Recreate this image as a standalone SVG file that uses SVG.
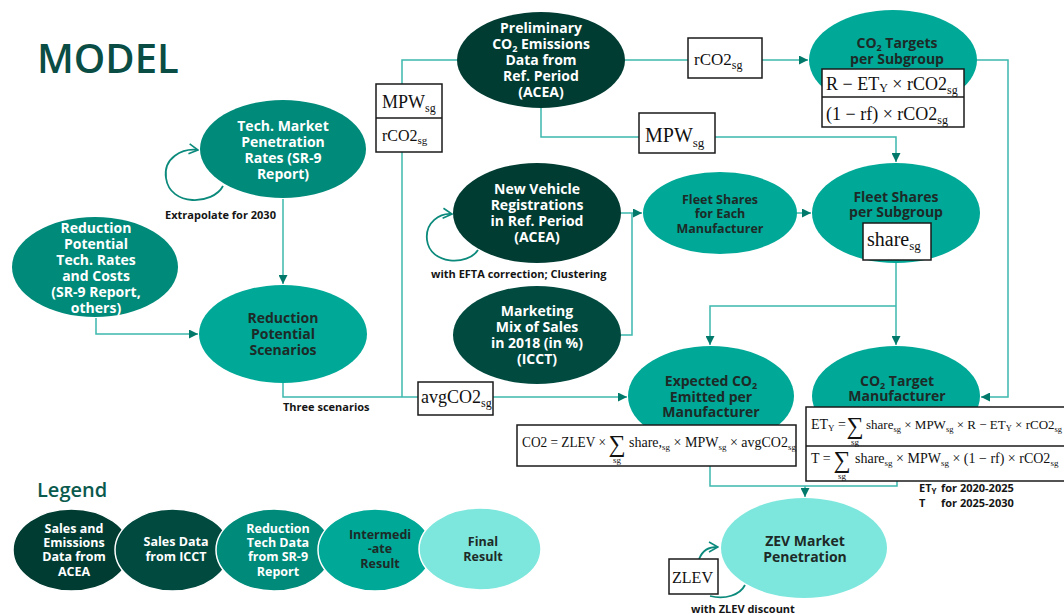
<svg xmlns="http://www.w3.org/2000/svg" width="1064" height="614" viewBox="0 0 1064 614">
<defs>
<marker id="ah" viewBox="0 0 10 10" refX="10" refY="5" markerWidth="9" markerHeight="9" markerUnits="userSpaceOnUse" orient="auto"><path d="M0,0 L10,5 L0,10 z" fill="#00796b"/></marker>
<marker id="ch" viewBox="0 0 12 12" refX="11" refY="6" markerWidth="12" markerHeight="12" markerUnits="userSpaceOnUse" orient="auto"><path d="M2,1 L11,6 L2,11" fill="none" stroke="#0b8a7c" stroke-width="1.6"/></marker>
<style>
.ln{fill:none;stroke:#3db8ad;stroke-width:1.5}
.lp{fill:none;stroke:#0b8a7c;stroke-width:1.8}
.t{font-family:"Open Sans","Liberation Sans",sans-serif;font-weight:700;font-size:14px;text-anchor:middle}
.w{fill:#fff}
.d{fill:#1d2a27}
.s{font-size:12.5px}
.lbl{font-family:"Open Sans","Liberation Sans",sans-serif;font-weight:700;font-size:11px;fill:#151515}
.m{font-family:"Liberation Serif","DejaVu Serif",serif;fill:#111}
.bx{fill:#fff;stroke:#1a1a1a;stroke-width:1.5}
.acea{fill:#013c33}
.icct{fill:#014a40}
.sr9{fill:#008a7a}
.int{fill:#00a897}
.fin{fill:#7de7dd}
.lg{stroke:#fff;stroke-width:1.5}
</style>
</defs>
<rect width="1064" height="614" fill="#fff"/>
<text x="37" y="73" font-family="'Open Sans','Liberation Sans',sans-serif" font-weight="600" font-size="40" fill="#0a4d44">MODEL</text>

<g id="connectors">
<path class="ln" d="M283,199 V284" marker-end="url(#ah)"/>
<path class="ln" d="M96,318 V334 H198" marker-end="url(#ah)"/>
<path class="ln" d="M283,383 V397 H418"/>
<path class="ln" d="M402,152 V397"/>
<path class="ln" d="M402,84 V60 H457"/>
<path class="ln" d="M625,60 H688"/>
<path class="ln" d="M762,60 H808" marker-end="url(#ah)"/>
<path class="ln" d="M541,108 V137 H639"/>
<path class="ln" d="M715,137 H896 V162" marker-end="url(#ah)"/>
<path class="ln" d="M977,60 H1008 V397 H981" marker-end="url(#ah)"/>
<path class="ln" d="M797,213 H811" marker-end="url(#ah)"/>
<path class="ln" d="M621,213 H642" marker-end="url(#ah)"/>
<path class="ln" d="M621,335 H632 V213"/>
<path class="ln" d="M896,263 V345" marker-end="url(#ah)"/>
<path class="ln" d="M896,306 H710 V345" marker-end="url(#ah)"/>
<path class="ln" d="M493,397 H627" marker-end="url(#ah)"/>
<path class="ln" d="M710,466 V486 H897 V481"/>
<path class="ln" d="M805,486 V497" marker-end="url(#ah)"/>
<path class="lp" d="M223,186 C213,205 170,207 166,178 C163,158 182,148 198,150" marker-end="url(#ch)"/>
<path class="lp" d="M478,250 C468,266 430,265 427,240 C425,222 440,213 452,214" marker-end="url(#ch)"/>
<path class="lp" d="M699,559 C703,550 708,547 718,547" marker-end="url(#ch)"/>
<path class="lp" d="M710,596 C725,600 740,595 745,585"/>
</g>

<g id="lbl-extrapolate"><text class="lbl" x="165" y="219">Extrapolate for 2030</text></g>
<g id="lbl-efta"><text class="lbl" x="431" y="278">with EFTA correction; Clustering</text></g>
<g id="lbl-three"><text class="lbl" x="283" y="411">Three scenarios</text></g>

<g id="node-techmarket">
<ellipse class="sr9" cx="283" cy="149" rx="83" ry="49"/>
<text class="t w" x="283" y="131">Tech. Market</text>
<text class="t w" x="283" y="147">Penetration</text>
<text class="t w" x="283" y="163">Rates (SR-9</text>
<text class="t w" x="283" y="179">Report)</text>
</g>

<g id="node-redtech">
<ellipse class="sr9" cx="95" cy="267" rx="83" ry="50"/>
<text class="t w" x="96" y="233">Reduction</text>
<text class="t w" x="96" y="249">Potential</text>
<text class="t w" x="96" y="265">Tech. Rates</text>
<text class="t w" x="96" y="281">and Costs</text>
<text class="t w" x="96" y="297">(SR-9 Report,</text>
<text class="t w" x="96" y="313">others)</text>
</g>

<g id="node-scenarios">
<ellipse class="int" cx="283" cy="334" rx="84" ry="49"/>
<text class="t d" x="283" y="323">Reduction</text>
<text class="t d" x="283" y="339">Potential</text>
<text class="t d" x="283" y="355">Scenarios</text>
</g>

<g id="box-mpw-rco2">
<rect class="bx" x="376" y="84" width="66" height="68"/>
<line x1="376" y1="118" x2="442" y2="118" stroke="#1a1a1a" stroke-width="1.5"/>
<text class="m" x="382" y="108" font-size="18">MPW<tspan font-size="12" dy="4">sg</tspan></text>
<text class="m" x="382" y="141" font-size="16">rCO2<tspan font-size="11" dy="3">sg</tspan></text>
</g>

<g id="node-preliminary">
<ellipse class="acea" cx="541" cy="60" rx="84" ry="48"/>
<text class="t w" x="541" y="33">Preliminary</text>
<text class="t w" x="541" y="49">CO<tspan font-size="9" dy="3">2</tspan><tspan dy="-3"> Emissions</tspan></text>
<text class="t w" x="541" y="65">Data from</text>
<text class="t w" x="541" y="81">Ref. Period</text>
<text class="t w" x="541" y="97">(ACEA)</text>
</g>

<g id="box-rco2">
<rect class="bx" x="688" y="38" width="74" height="40"/>
<text class="m" x="694" y="65" font-size="17">rCO2<tspan font-size="12" dy="4">sg</tspan></text>
</g>

<g id="node-co2targets">
<ellipse class="int" cx="893" cy="60" rx="84" ry="50"/>
<text class="t d" x="897" y="48">CO<tspan font-size="9" dy="3">2</tspan><tspan dy="-3"> Targets</tspan></text>
<text class="t d" x="897" y="64">per Subgroup</text>
<rect class="bx" x="822" y="69" width="142" height="58"/>
<line x1="822" y1="97" x2="964" y2="97" stroke="#1a1a1a" stroke-width="1.5"/>
<text class="m" x="826" y="90" font-size="18">R − ET<tspan font-size="12" dy="2">Y</tspan><tspan dy="-2"> × rCO2</tspan><tspan font-size="12" dy="4">sg</tspan></text>
<text class="m" x="826" y="120" font-size="18">(1 − rf) × rCO2<tspan font-size="12" dy="4">sg</tspan></text>
</g>

<g id="box-mpw">
<rect class="bx" x="639" y="113" width="76" height="40"/>
<text class="m" x="645" y="142" font-size="20">MPW<tspan font-size="13" dy="5">sg</tspan></text>
</g>

<g id="node-nvr">
<ellipse class="acea" cx="537" cy="213" rx="84" ry="50"/>
<text class="t w" x="537" y="194">New Vehicle</text>
<text class="t w" x="537" y="210">Registrations</text>
<text class="t w" x="537" y="226">in Ref. Period</text>
<text class="t w" x="537" y="242">(ACEA)</text>
</g>

<g id="node-marketing">
<ellipse class="icct" cx="537" cy="335" rx="84" ry="49"/>
<text class="t w" x="537" y="316">Marketing</text>
<text class="t w" x="537" y="332">Mix of Sales</text>
<text class="t w" x="537" y="348">in 2018 (in %)</text>
<text class="t w" x="537" y="364">(ICCT)</text>
</g>

<g id="node-fleeteach">
<ellipse class="int" cx="720" cy="213" rx="77" ry="41"/>
<text class="t d s" x="720" y="203.5">Fleet Shares</text>
<text class="t d s" x="720" y="218">for Each</text>
<text class="t d s" x="720" y="232.5">Manufacturer</text>
</g>

<g id="node-fleetsub">
<ellipse class="int" cx="896" cy="213" rx="84" ry="50"/>
<text class="t d" x="896" y="202">Fleet Shares</text>
<text class="t d" x="896" y="217">per Subgroup</text>
<rect class="bx" x="863" y="223" width="68" height="37"/>
<text class="m" x="867" y="246" font-size="20">share<tspan font-size="13" dy="4">sg</tspan></text>
</g>

<g id="box-avgco2">
<rect class="bx" x="418" y="382" width="75" height="33"/>
<text class="m" x="421" y="403" font-size="18">avgCO2<tspan font-size="12" dy="4">sg</tspan></text>
</g>

<g id="node-expected">
<ellipse class="int" cx="711" cy="396" rx="83" ry="50"/>
<text class="t d" x="711" y="386">Expected CO<tspan font-size="9" dy="3">2</tspan></text>
<text class="t d" x="711" y="402">Emitted per</text>
<text class="t d" x="711" y="417">Manufacturer</text>
<rect class="bx" x="517" y="425" width="279" height="41"/>
<text class="m" x="522" y="447" font-size="14" textLength="84" lengthAdjust="spacingAndGlyphs">CO2 = ZLEV ×</text>
<text class="m" x="617" y="452" font-size="24" text-anchor="middle">∑</text>
<text class="m" x="617" y="463" font-size="9" text-anchor="middle">sg</text>
<text class="m" x="629" y="447" font-size="14">share,<tspan font-size="9" dy="3">sg</tspan><tspan dy="-3"> × MPW</tspan><tspan font-size="9" dy="3">sg</tspan><tspan dy="-3"> × avgCO2</tspan><tspan font-size="9" dy="3">sg</tspan></text>
</g>

<g id="node-co2mfr">
<ellipse class="int" cx="896" cy="396" rx="84" ry="50"/>
<text class="t d" x="897" y="386">CO<tspan font-size="9" dy="3">2</tspan><tspan dy="-3"> Target</tspan></text>
<text class="t d" x="897" y="401">Manufacturer</text>
<rect class="bx" x="806" y="407" width="270" height="74"/>
<line x1="806" y1="446" x2="1076" y2="446" stroke="#1a1a1a" stroke-width="1.5"/>
<text class="m" x="811" y="429" font-size="14">ET<tspan font-size="9" dy="2">Y</tspan><tspan dy="-2"> =</tspan></text>
<text class="m" x="855" y="434" font-size="24" text-anchor="middle">∑</text>
<text class="m" x="855" y="445" font-size="9" text-anchor="middle">sg</text>
<text class="m" x="866" y="429" font-size="13">share<tspan font-size="8.5" dy="3">sg</tspan><tspan dy="-3"> × MPW</tspan><tspan font-size="8.5" dy="3">sg</tspan><tspan dy="-3"> × R − ET</tspan><tspan font-size="8.5" dy="2">Y</tspan><tspan dy="-2"> × rCO2</tspan><tspan font-size="8.5" dy="3">sg</tspan></text>
<text class="m" x="811" y="463" font-size="14">T =</text>
<text class="m" x="842" y="468" font-size="24" text-anchor="middle">∑</text>
<text class="m" x="842" y="479" font-size="9" text-anchor="middle">sg</text>
<text class="m" x="855" y="463" font-size="14">share<tspan font-size="9" dy="3">sg</tspan><tspan dy="-3"> × MPW</tspan><tspan font-size="9" dy="3">sg</tspan><tspan dy="-3"> × (1 − rf) × rCO2</tspan><tspan font-size="9" dy="3">sg</tspan></text>
</g>

<g id="lbl-periods">
<text class="lbl" x="919" y="492" font-size="12">ET<tspan font-size="8" dy="2">Y</tspan></text>
<text class="lbl" x="941" y="492" font-size="12">for 2020-2025</text>
<text class="lbl" x="919" y="507" font-size="12">T</text>
<text class="lbl" x="941" y="507" font-size="12">for 2025-2030</text>
</g>

<g id="node-zev">
<ellipse class="fin" cx="804" cy="548" rx="83" ry="50"/>
<text class="t d" x="805" y="546">ZEV Market</text>
<text class="t d" x="805" y="562">Penetration</text>
</g>

<g id="box-zlev">
<rect class="bx" x="669" y="559" width="49" height="35"/>
<text class="m" x="672" y="583" font-size="17" textLength="41" lengthAdjust="spacingAndGlyphs">ZLEV</text>
</g>
<g id="lbl-zlev"><text class="lbl" x="691" y="613" font-size="12">with ZLEV discount</text></g>

<g id="legend">
<text x="37" y="497" font-family="'Open Sans','Liberation Sans',sans-serif" font-weight="600" font-size="20" fill="#0a5a4e">Legend</text>
<g id="legend-acea">
<ellipse class="acea lg" cx="71.5" cy="550" rx="58.5" ry="41"/>
<text class="t w s" x="74" y="532.5">Sales and</text>
<text class="t w s" x="74" y="546.5">Emissions</text>
<text class="t w s" x="74" y="561">Data from</text>
<text class="t w s" x="74" y="575.5">ACEA</text>
</g>
<g id="legend-icct">
<ellipse class="icct lg" cx="172.5" cy="550" rx="57.5" ry="41"/>
<text class="t w s" x="176" y="545.5">Sales Data</text>
<text class="t w s" x="176" y="560.5">from ICCT</text>
</g>
<g id="legend-sr9">
<ellipse class="sr9 lg" cx="274" cy="550" rx="58" ry="41"/>
<text class="t w s" x="278" y="532.5">Reduction</text>
<text class="t w s" x="278" y="546.5">Tech Data</text>
<text class="t w s" x="278" y="561">from SR-9</text>
<text class="t w s" x="278" y="575.5">Report</text>
</g>
<g id="legend-int">
<ellipse class="int lg" cx="375" cy="550" rx="57" ry="41"/>
<text class="t d s" x="380" y="538.5">Intermedi</text>
<text class="t d s" x="380" y="553">-ate</text>
<text class="t d s" x="380" y="567.5">Result</text>
</g>
<g id="legend-fin">
<ellipse class="fin lg" cx="480" cy="549" rx="61" ry="41"/>
<text class="t d s" x="483" y="545.5">Final</text>
<text class="t d s" x="483" y="560.5">Result</text>
</g>
</g>
</svg>
